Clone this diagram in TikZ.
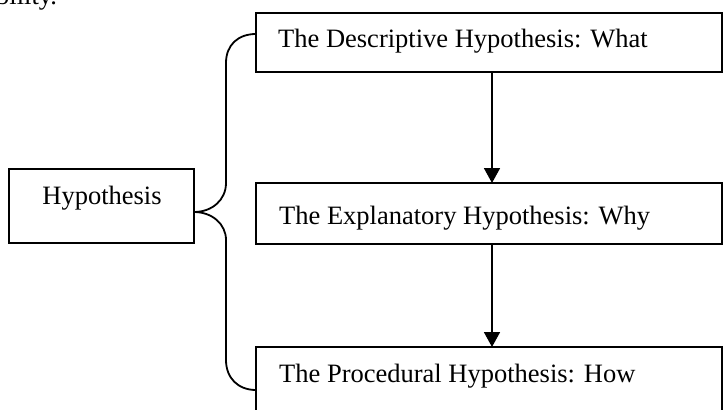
\documentclass[tikz,border=0pt]{standalone}
\usepackage{fontspec}
\setmainfont{Liberation Serif}
\usetikzlibrary{arrows.meta}
\begin{document}
\begin{tikzpicture}[x=1pt,y=-1pt,
  box/.style={draw,line width=1.8pt,rectangle,inner sep=0pt,outer sep=0pt,anchor=north west},
  lbl/.style={inner sep=0pt,font=\fontsize{26.5}{32}\selectfont},
  arr/.style={line width=1.8pt,-{Triangle[width=16pt,length=15pt]}},
  brace/.style={line width=1.8pt}]
\useasboundingbox (0,0) rectangle (724,410);
\node[lbl,anchor=base west] (frag) at (-4,4) {bility.};
\node[box,minimum width=185pt,minimum height=74pt] (h) at (9,169) {};
\node[lbl,anchor=base] (ht) at (102,204) {Hypothesis};
\node[box,minimum width=466pt,minimum height=59pt] (d) at (256,13) {};
\node[box,minimum width=466pt,minimum height=61pt] (e) at (256,183) {};
\node[box,minimum width=466pt,minimum height=80pt] (p) at (256,347) {};
\node[lbl,anchor=base west] (dt) at (278,47) {The Descriptive Hypothesis: What};
\node[lbl,anchor=base west] (et) at (279,224) {The Explanatory Hypothesis: Why};
\node[lbl,anchor=base west] (pt) at (279,382) {The Procedural Hypothesis: How};
\draw[arr] ([xshift=3pt]d.south) -- ([xshift=3pt]e.north);
\draw[arr] ([xshift=3pt]e.south) -- ([xshift=3pt]p.north);
\coordinate (tip) at ([yshift=-6pt]h.east);
\draw[brace] (tip) .. controls (212,212) and (226,200) .. (226,183)
  -- (226,63) .. controls (226,45) and (238,34) .. ([yshift=8.5pt]d.west);
\draw[brace] (tip) .. controls (212,212) and (226,224) .. (226,240)
  -- (226,360) .. controls (226,378) and (238,390) .. ([yshift=-3pt]p.west);
\end{tikzpicture}
\end{document}
